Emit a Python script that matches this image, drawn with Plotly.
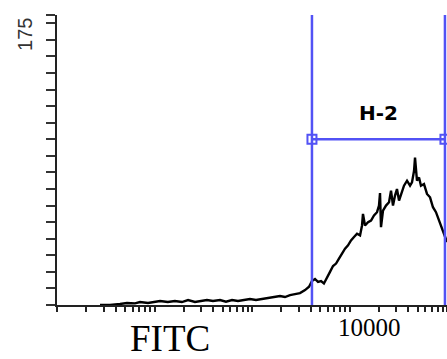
import math
import plotly.graph_objects as go

# FITC channel intensities and event counts
fitc = [27.6, 35.0, 44.3, 52.2, 63.1, 71.0, 85.8, 101, 114, 137, 162, 191, 221, 260,
        293, 345, 398, 470, 541, 624, 718, 847, 953, 1099, 1267, 1459, 1683, 1937,
        2179, 2455, 2761, 3105, 3500, 3846, 4121, 4426, 4753, 5105, 5470, 5875, 6310,
        6776, 7278, 7798, 8375, 8995, 9661, 10360, 11120, 11940, 12830, 13440, 13750,
        14420, 15490, 16630, 17830, 19150, 20070, 20560, 21040, 22060, 23680, 25430,
        26660, 27930, 29300, 30690, 32210, 33740, 36220, 38900, 41780, 43750, 45920,
        46990, 49200, 51640, 54080, 58080, 62370, 66990, 71780, 77090, 82790, 88920,
        95280, 100000]
counts = [0, 0, 0.6, 1.2, 1.0, 1.8, 1.2, 1.8, 2.4, 1.8, 2.4, 1.8, 3.0, 1.8,
          2.4, 3.0, 2.4, 3.0, 2.0, 3.0, 2.4, 3.0, 3.6, 3.0, 3.6, 4.2, 4.8, 5.4,
          4.8, 6.0, 6.6, 7.2, 9.0, 11, 14.5, 15.7, 14, 14.5, 13, 17, 20,
          23.5, 25, 28, 31, 34, 36, 39, 41, 43, 42, 48, 55,
          48, 50, 51, 54, 56, 60, 67.5, 47, 57, 60, 62,
          69, 60, 66, 70, 63, 67, 72, 75, 72, 74, 81,
          89, 75, 77, 72, 73, 67, 65, 59, 56, 51, 46,
          42, 38]

# Gate H-2
gate_name = "H-2"
gate_lo = 4121
gate_hi = 95280
gate_level = 100
gate_top = 176

# Axis ticks
x_ticks = [10, 20, 30, 40, 50, 60, 70, 80, 90,
           100, 200, 300, 400, 500, 600, 700, 800, 900,
           1000, 2000, 3000, 4000, 5000, 6000, 7000, 8000, 9000,
           10000, 20000, 30000, 40000, 50000, 60000, 70000, 80000, 90000, 100000]
x_label_value = 10000
x_label_text = "10000"
y_ticks = [0, 10, 20, 30, 40, 50, 60, 70, 80, 90, 100, 110, 120, 130, 140, 150, 160, 170, 175]
y_label_value = "175"
x_title = "FITC"

blue = "#5252f5"

fig = go.Figure()
fig.add_trace(go.Scatter(x=fitc, y=counts, mode="lines",
                         line=dict(color="black", width=2.4), hoverinfo="skip"))

# gate lines
fig.add_trace(go.Scatter(x=[gate_lo, gate_lo], y=[0, gate_top], mode="lines",
                         line=dict(color=blue, width=2.5), cliponaxis=False))
fig.add_trace(go.Scatter(x=[gate_hi, gate_hi], y=[0, gate_top], mode="lines",
                         line=dict(color=blue, width=2.5), cliponaxis=False))
fig.add_trace(go.Scatter(x=[gate_lo, gate_hi], y=[gate_level, gate_level], mode="lines+markers",
                         line=dict(color=blue, width=2.5), cliponaxis=False,
                         marker=dict(symbol="square-open", size=9, color=blue,
                                     line=dict(color=blue, width=2))))

fig.add_annotation(x=(math.log10(gate_lo) + math.log10(gate_hi)) / 2, y=gate_level,
                   xref="x", yref="y",
                   text="<b>" + gate_name + "</b>", showarrow=False, yanchor="bottom",
                   yshift=12,
                   font=dict(family="DejaVu Sans", size=20, color="black"))

fig.add_annotation(x=-0.082, y=163, xref="paper", yref="y", text=y_label_value,
                   textangle=-90, showarrow=False, xanchor="center", yanchor="middle",
                   font=dict(family="Liberation Sans", size=20, color="#333"))

fig.add_annotation(x=math.log10(x_label_value), y=-0.079, xref="x", yref="paper",
                   text=x_label_text, showarrow=False, xanchor="center", yanchor="middle",
                   xshift=20,
                   font=dict(family="Liberation Serif", size=25, color="black"))

fig.add_annotation(x=0.29, y=-0.117, xref="paper", yref="paper", text=x_title,
                   showarrow=False, xanchor="center", yanchor="middle",
                   font=dict(family="Liberation Serif", size=37, color="black"))

fig.update_layout(
    width=447, height=359,
    margin=dict(l=57, r=0, t=15, b=54),
    paper_bgcolor="white", plot_bgcolor="white",
    showlegend=False,
    xaxis=dict(type="log", range=[1, 5], showgrid=False, zeroline=False,
               showline=True, linecolor="#222", linewidth=2,
               ticks="outside", ticklen=5, tickwidth=1.5, tickcolor="#222",
               tickvals=x_ticks, showticklabels=False),
    yaxis=dict(range=[0, 175], showgrid=False, zeroline=False,
               showline=True, linecolor="#222", linewidth=2,
               ticks="outside", ticklen=9, tickwidth=2, tickcolor="#333",
               tickvals=y_ticks, showticklabels=False),
)

fig.write_html("out.html",
               config={"displayModeBar": False},
               post_script="document.body.style.margin='0';"
                           "document.body.style.overflow='hidden';"
                           "document.documentElement.style.overflow='hidden';")
